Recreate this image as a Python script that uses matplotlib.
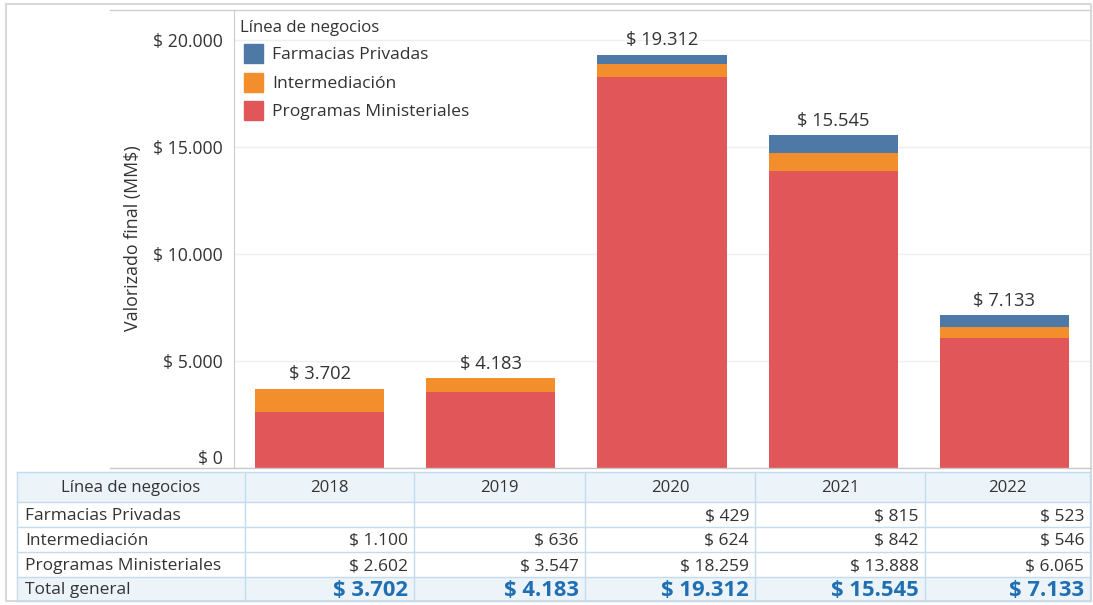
import matplotlib.pyplot as plt
from matplotlib.patches import Rectangle
import numpy as np

plt.rcParams['font.family'] = ['Open Sans', 'DejaVu Sans']

# Datos
anios = ['2018', '2019', '2020', '2021', '2022']
lineas = ['Farmacias Privadas', 'Intermediación', 'Programas Ministeriales']
farmacias = [None, None, 429, 815, 523]
intermediacion = [1100, 636, 624, 842, 546]
programas = [2602, 3547, 18259, 13888, 6065]
totales = [3702, 4183, 19312, 15545, 7133]
colores = ['#4e79a7', '#f28e2b', '#e15759']
y_ticks = [0, 5000, 10000, 15000, 20000]


def fmt(v):
    return '$ ' + f'{v:,.0f}'.replace(',', '.')


W, H = 1093, 605
fig = plt.figure(figsize=(W / 100, H / 100), dpi=100)
texto = '#333333'

# Grafico de barras apiladas
ax = fig.add_axes([234 / W, 1 - 468 / H, (1090 - 234) / W, (468 - 10) / H])
x = np.arange(len(anios))
prog = np.array(programas, float)
inter = np.array(intermediacion, float)
farm = np.array([v or 0 for v in farmacias], float)
ancho = 0.755
ax.bar(x, prog, ancho, color=colores[2])
ax.bar(x, inter, ancho, bottom=prog, color=colores[1])
ax.bar(x, farm, ancho, bottom=prog + inter, color=colores[0])
for xi, top, t in zip(x, prog + inter + farm, totales):
    ax.annotate(fmt(t), (xi, top), xytext=(0, 4), textcoords='offset points',
                ha='center', va='bottom', fontsize=13.2, color=texto)

ax.set_xlim(-0.5, len(anios) - 0.5)
ax.set_ylim(0, 21400)
ax.set_xticks([])
ax.set_yticks(y_ticks)
ax.set_yticklabels([fmt(v) for v in y_ticks], fontsize=12.7, color=texto)
ax.get_yticklabels()[0].set_va('bottom')
ax.tick_params(axis='y', length=0, pad=8)
ax.yaxis.grid(True, color='#efefef', lw=1)
ax.set_axisbelow(True)
for s in ['top', 'right', 'bottom']:
    ax.spines[s].set_visible(False)
ax.spines['left'].set_color('#cccccc')
fig.text(133 / W, 1 - 238 / H, 'Valorizado final (MM$)', rotation=90,
         ha='center', va='center', fontsize=12.8, color=texto)

# Capa en pixeles: marco, leyenda y tabla
ov = fig.add_axes([0, 0, 1, 1])
ov.set_xlim(0, W)
ov.set_ylim(H, 0)
ov.axis('off')
dy = 1.5  # ajuste vertical del texto

ov.plot([6, 1091, 1091, 6, 6], [4, 4, 601, 601, 4], color='#d9d9d9', lw=1.5)
ov.plot([110, 1091], [10, 10], color='#d0d0d0', lw=1)
ov.plot([110, 1091], [468, 468], color='#c8c8c8', lw=1)

# Leyenda
ov.text(240, 26 + dy, 'Línea de negocios', fontsize=12.1, color=texto, va='center')
for i, (nombre, c) in enumerate(zip(lineas, colores)):
    y0 = 44 + 28.5 * i
    ov.add_patch(Rectangle((244, y0), 19, 19, color=c))
    ov.text(272, y0 + 9.5 + dy, nombre, fontsize=12.6, color=texto, va='center')

# Tabla
cols = [17, 245, 414, 585, 755, 925, 1090]
filas = [472, 502, 527, 552, 577, 601]
fondo = '#ecf4fa'
linea = '#c3dbee'
ov.add_patch(Rectangle((cols[0], filas[0]), cols[-1] - cols[0], filas[1] - filas[0],
                       facecolor=fondo, edgecolor='none'))
ov.add_patch(Rectangle((cols[0], filas[4]), cols[-1] - cols[0], filas[5] - filas[4],
                       facecolor=fondo, edgecolor='none'))
for yy in filas:
    ov.plot([cols[0], cols[-1]], [yy, yy], color=linea, lw=1)
for xx in cols:
    ov.plot([xx, xx], [filas[0], filas[-1]], color=linea, lw=1)

yh = (filas[0] + filas[1]) / 2 + dy
ov.text((cols[0] + cols[1]) / 2, yh, 'Línea de negocios',
        ha='center', va='center', fontsize=12.1, color=texto)
for j, a in enumerate(anios):
    ov.text((cols[j + 1] + cols[j + 2]) / 2, yh, a,
            ha='center', va='center', fontsize=12.1, color=texto)

tabla = [farmacias, intermediacion, programas]
for i, (nombre, valores) in enumerate(zip(lineas, tabla)):
    yc = (filas[i + 1] + filas[i + 2]) / 2 + dy
    ov.text(25, yc, nombre, va='center', fontsize=12.5, color=texto)
    for j, v in enumerate(valores):
        if v is not None:
            ov.text(cols[j + 2] - 6, yc, fmt(v), ha='right', va='center',
                    fontsize=12.5, color=texto)

yc = (filas[4] + filas[5]) / 2 + dy
ov.text(25, yc, 'Total general', va='center', fontsize=12.5, color=texto)
for j, t in enumerate(totales):
    ov.text(cols[j + 2] - 6, yc, fmt(t), ha='right', va='center',
            fontsize=15.8, fontweight='bold', color='#1f6fb2')

fig.savefig('out.png', dpi=100)
